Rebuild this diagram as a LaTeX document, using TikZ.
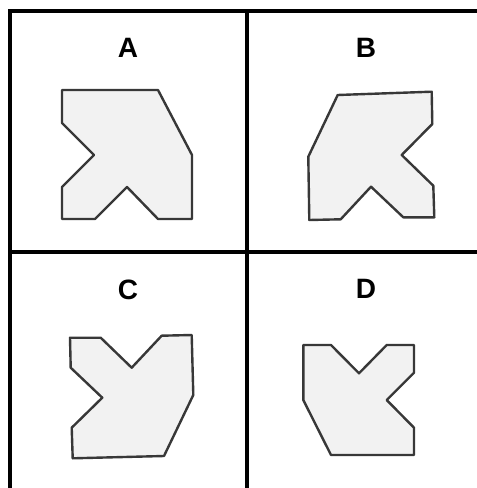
\documentclass[tikz,border=0pt]{standalone}
\usepackage{fontspec}
\setmainfont{Liberation Sans}
\begin{document}
\begin{tikzpicture}[x=1pt,y=-1pt,
    piece/.style={draw=black!78,fill=black!5,line width=2.4pt,line join=round},
    lab/.style={font=\bfseries\fontsize{28}{30}\selectfont}]
  \useasboundingbox (0,0) rectangle (477,488);
  % frame
  \draw[line width=4pt] (8,11)--(477,11);
  \draw[line width=4pt] (8,252)--(477,252);
  \draw[line width=4pt] (10,9)--(10,488);
  \draw[line width=4pt] (247,9)--(247,488);
  % labels
  \node[lab] (labA) at (128,48) {A};
  \node[lab] (labB) at (366,48) {B};
  \node[lab] (labC) at (128,290) {C};
  \node[lab] (labD) at (366,289) {D};
  % shapes
  \draw[piece] (62,90)--(158,90)--(192,155)--(192,219)--(158,219)--(127,187)
    --(95,219)--(62,219)--(62,187)--(94,155)--(62,123)--cycle;
  \draw[piece] (337.7,95)--(431.7,91.7)--(432.3,124)--(401.7,155)--(433.3,185.7)
    --(434.3,217.3)--(403.3,217.3)--(371,186.7)--(340.7,219.3)--(309.3,220)
    --(308.3,156.7)--cycle;
  \draw[piece] (70,337.7)--(100.7,337.7)--(131.7,367.7)--(161.7,335.7)--(191.7,335)
    --(193.3,395)--(164,456)--(72.7,458.3)--(71.7,427.7)--(102.3,397.7)
    --(70.7,367.7)--cycle;
  \draw[piece] (303.3,345)--(331,345)--(359,373.3)--(386.7,345)--(414,345)
    --(414,372.7)--(386.7,400)--(414,427.7)--(414,455)--(331,455)
    --(303.3,400)--cycle;
\end{tikzpicture}
\end{document}
